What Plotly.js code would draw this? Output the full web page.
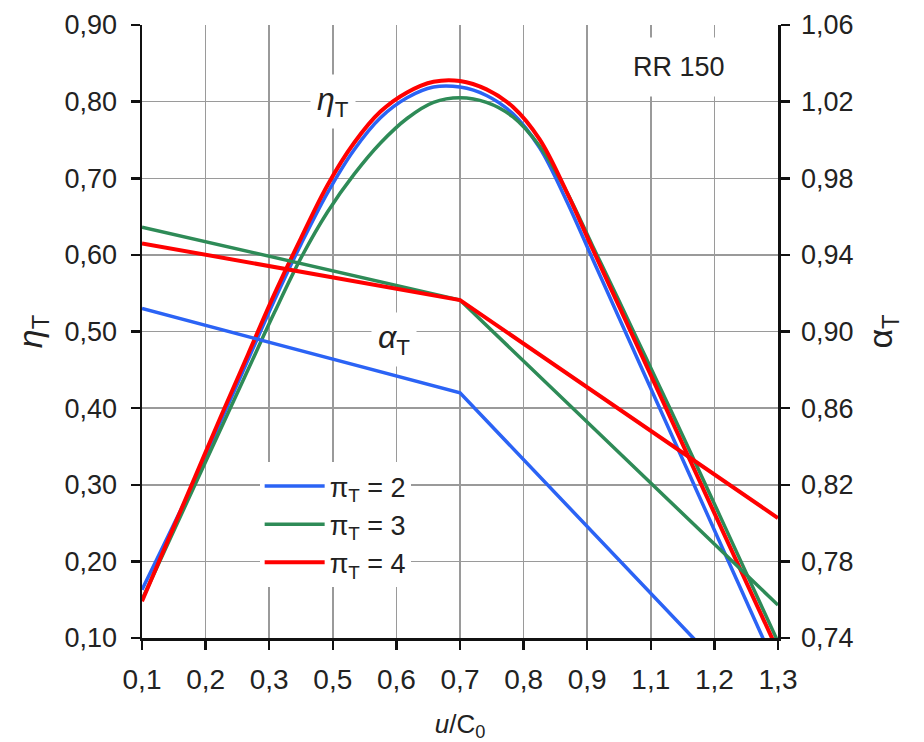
<!DOCTYPE html>
<html>
<head>
<meta charset="utf-8">
<script src="https://cdn.plot.ly/plotly-3.0.1.min.js"></script>
<style>html,body{margin:0;padding:0;background:#fff;}#chart{width:924px;height:742px;}</style>
</head>
<body>
<div id="chart"></div>
<script>
// x values (u/C0) for the efficiency curves
const etaX = [0.10,0.15,0.20,0.25,0.30,0.35,0.40,0.45,0.50,0.55,0.60,0.65,0.70,0.75,0.80,0.85,0.90,0.95,1.00,1.05,1.10,1.15,1.20,1.25,1.30];
// eta_T (left axis)
const etaPi2 = [0.163,0.234,0.306,0.385,0.463,0.541,0.614,0.681,0.737,0.779,0.805,0.819,0.819,0.808,0.784,0.740,0.672,0.595,0.518,0.441,0.364,0.287,0.210,0.133,0.056];
const etaPi3 = [0.150,0.225,0.300,0.375,0.450,0.525,0.596,0.656,0.705,0.746,0.778,0.799,0.805,0.799,0.780,0.742,0.684,0.612,0.540,0.467,0.394,0.320,0.245,0.170,0.095];
const etaPi4 = [0.148,0.229,0.310,0.391,0.470,0.549,0.622,0.691,0.746,0.787,0.812,0.826,0.827,0.816,0.793,0.751,0.684,0.608,0.533,0.458,0.383,0.308,0.233,0.158,0.083];
// alpha_T (right axis), piecewise linear with a kink at 0.7
const alphaX = [0.10,0.70,1.30];
const alphaPi2 = [0.912,0.868,0.6935];
const alphaPi3 = [0.9545,0.9164,0.7572];
const alphaPi4 = [0.946,0.9164,0.8026];
// x tick labels
const xTickVals = [0.10,0.22,0.34,0.46,0.58,0.70,0.82,0.94,1.06,1.18,1.30];
const xTickText = ['0,1','0,2','0,3','0,5','0,6','0,7','0,8','0,9','1,1','1,2','1,3'];
const seriesNames = ['π<sub>T</sub> = 2','π<sub>T</sub> = 3','π<sub>T</sub> = 4'];
const seriesColors = ['#2b63f5','#2e8b57','#ff0000'];

const FONT = 'Liberation Sans, Arial, sans-serif';
const etaSets = [etaPi2, etaPi3, etaPi4];
const alphaSets = [alphaPi2, alphaPi3, alphaPi4];
const widths = [3.5, 3.5, 4];
const traces = [];
for (let i = 0; i < 3; i++) {
  traces.push({
    x: alphaX, y: alphaSets[i], yaxis: 'y2', type: 'scatter', mode: 'lines',
    line: {color: seriesColors[i], width: widths[i]},
    legendgroup: 'g' + i, showlegend: false, hoverinfo: 'skip'
  });
}
for (let i = 0; i < 3; i++) {
  traces.push({
    x: etaX, y: etaSets[i], type: 'scatter', mode: 'lines',
    line: {color: seriesColors[i], width: widths[i], shape: 'spline', smoothing: 1},
    name: seriesNames[i], legendgroup: 'g' + i, showlegend: true
  });
}

const layout = {
  width: 924, height: 742,
  margin: {l: 142, r: 146, t: 25, b: 104},
  paper_bgcolor: '#fff', plot_bgcolor: '#fff',
  separators: ', ',
  font: {family: FONT, size: 27, color: '#222'},
  showlegend: true,
  legend: {
    x: 0.185, y: 0.287, xanchor: 'left', yanchor: 'top',
    bgcolor: '#fff', borderwidth: 0,
    font: {family: FONT, size: 27, color: '#222'},
    tracegroupgap: 0, itemwidth: 60
  },
  xaxis: {
    range: [0.1, 1.3], tickmode: 'array', tickvals: xTickVals, ticktext: xTickText,
    showgrid: true, gridcolor: '#9a9a9a', gridwidth: 1.5,
    showline: true, linecolor: '#111', linewidth: 2.5,
    ticks: 'outside', ticklen: 9, tickwidth: 2.5, tickcolor: '#111',
    ticklabelstandoff: 6, zeroline: false,
    tickfont: {family: FONT, size: 28, color: '#222'},
    title: {text: '<i>u</i>/C<sub>0</sub>', font: {family: FONT, size: 26, color: '#222'}, standoff: 22}
  },
  yaxis: {
    range: [0.1, 0.9], dtick: 0.1, tick0: 0.1, tickformat: '.2f',
    showgrid: true, gridcolor: '#9a9a9a', gridwidth: 1.5,
    showline: true, linecolor: '#111', linewidth: 2.5,
    ticks: 'outside', ticklen: 9, tickwidth: 2.5, tickcolor: '#111',
    ticklabelstandoff: 8, zeroline: false,
    tickfont: {family: FONT, size: 27, color: '#222'},
    title: {text: '<i>η</i><sub>T</sub>', font: {family: FONT, size: 34, color: '#222'}, standoff: 12}
  },
  yaxis2: {
    overlaying: 'y', side: 'right',
    range: [0.74, 1.06], dtick: 0.04, tick0: 0.74, tickformat: '.2f',
    showgrid: false, showline: true, linecolor: '#111', linewidth: 2.5,
    ticks: 'outside', ticklen: 9, tickwidth: 2.5, tickcolor: '#111',
    ticklabelstandoff: 6, zeroline: false,
    tickfont: {family: FONT, size: 27, color: '#222'},
    title: {text: 'α<sub>T</sub>', font: {family: FONT, size: 34, color: '#222'}, standoff: 16}
  },
  annotations: [
    {x: 0.46, y: 0.80, xref: 'x', yref: 'y', text: '<i>η</i><sub>T</sub>', showarrow: false,
     font: {family: FONT, size: 32, color: '#222'}, bgcolor: '#fff', borderpad: 6},
    {x: 0.575, y: 0.49, xref: 'x', yref: 'y', text: '<i>α</i><sub>T</sub>', showarrow: false,
     font: {family: FONT, size: 32, color: '#222'}, bgcolor: '#fff', borderpad: 6},
    {x: 1.114, y: 0.845, xref: 'x', yref: 'y', text: 'RR 150', showarrow: false,
     font: {family: FONT, size: 27, color: '#222'}, bgcolor: '#fff', borderpad: 14}
  ]
};

Plotly.newPlot('chart', traces, layout, {displayModeBar: false, staticPlot: true});
</script>
</body>
</html>
